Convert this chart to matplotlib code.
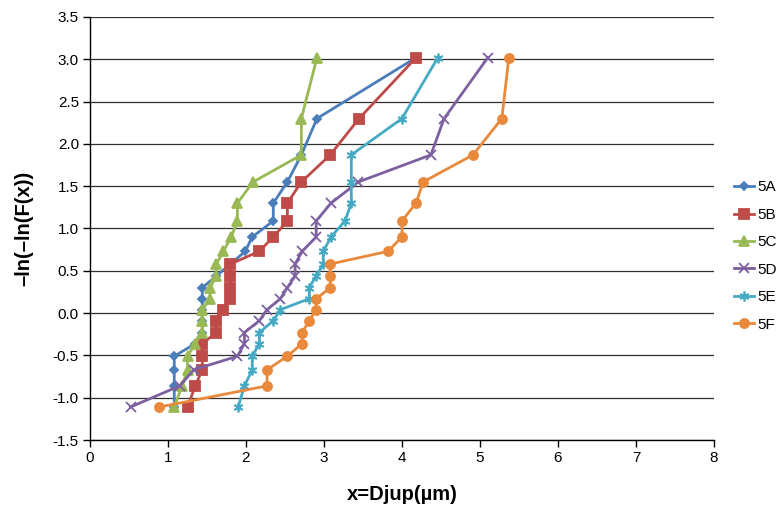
import matplotlib.pyplot as plt

plt.rcParams['font.family'] = ['Liberation Sans', 'DejaVu Sans']

# y positions (plotting positions), shared by every series
y_vals = [-1.11, -0.86, -0.67, -0.51, -0.36, -0.23, -0.09, 0.04, 0.17, 0.30,
          0.44, 0.58, 0.73, 0.90, 1.09, 1.30, 1.55, 1.87, 2.30, 3.02]

x_5a = [1.08, 1.08, 1.08, 1.08, 1.35, 1.44, 1.44, 1.44, 1.44, 1.44,
        1.62, 1.80, 1.99, 2.08, 2.35, 2.35, 2.53, 2.71, 2.91, 4.18]
x_5b = [1.25, 1.35, 1.44, 1.44, 1.44, 1.62, 1.62, 1.71, 1.80, 1.80,
        1.80, 1.80, 2.17, 2.35, 2.53, 2.53, 2.71, 3.08, 3.45, 4.18]
x_5c = [1.08, 1.18, 1.25, 1.25, 1.35, 1.44, 1.44, 1.44, 1.54, 1.54,
        1.62, 1.62, 1.71, 1.81, 1.89, 1.89, 2.09, 2.71, 2.71, 2.91]
x_5d = [0.52, 1.15, 1.33, 1.89, 1.98, 1.98, 2.17, 2.27, 2.44, 2.53,
        2.63, 2.63, 2.72, 2.90, 2.90, 3.09, 3.44, 4.37, 4.54, 5.10]
x_5e = [1.90, 1.98, 2.08, 2.08, 2.17, 2.17, 2.35, 2.44, 2.81, 2.81,
        2.90, 2.99, 2.99, 3.09, 3.27, 3.35, 3.35, 3.35, 4.00, 4.46]
x_5f = [0.89, 2.27, 2.27, 2.53, 2.72, 2.72, 2.81, 2.90, 2.90, 3.08,
        3.08, 3.08, 3.82, 4.00, 4.00, 4.18, 4.27, 4.91, 5.28, 5.37]

labels = ['5A', '5B', '5C', '5D', '5E', '5F']
series = [x_5a, x_5b, x_5c, x_5d, x_5e, x_5f]
colors = ['#4A7EBB', '#BE4B48', '#98B954', '#7D60A0', '#46AAC5', '#E8893B']
markers = ['D', 's', '^', 'x', (6, 2, 0), 'o']
msizes = [4.5, 6.5, 6.5, 6.5, 7, 6.5]

fig = plt.figure(figsize=(7.84, 5.09), dpi=100)
ax = fig.add_axes([90 / 784, 1 - 440 / 509, 624 / 784, 423 / 509])

for xs, lab, c, m, ms in zip(series, labels, colors, markers, msizes):
    ax.plot(xs, y_vals, color=c, lw=2.0, marker=m, markersize=ms,
            markeredgecolor=c, markerfacecolor=c, markeredgewidth=1.3,
            label=lab, clip_on=False, zorder=3)

ax.set_xlim(0, 8)
ax.set_ylim(-1.5, 3.5)
ax.set_xticks(range(0, 9))
ax.set_yticks([-1.5, -1.0, -0.5, 0.0, 0.5, 1.0, 1.5, 2.0, 2.5, 3.0, 3.5])
ax.set_yticklabels(['-1.5', '-1.0', '-0.5', '0.0', '0.5', '1.0', '1.5',
                    '2.0', '2.5', '3.0', '3.5'])
ax.yaxis.grid(True, color='#303030', lw=0.9)
ax.set_axisbelow(True)
for s in ['top', 'right']:
    ax.spines[s].set_visible(False)
for s in ['left', 'bottom']:
    ax.spines[s].set_color('black')
    ax.spines[s].set_linewidth(1.0)
ax.tick_params(axis='both', direction='out', length=5, width=1,
               labelsize=11, colors='black', pad=3)

ax.set_xlabel('x=Djup(µm)', fontsize=14.5, fontweight='bold', labelpad=14)
ax.set_ylabel('–ln(–ln(F(x))', fontsize=14.5, fontweight='bold', labelpad=14)

fig.legend(loc='center left', bbox_to_anchor=(0.936, 0.497), frameon=False,
           fontsize=11, handlelength=1.35, handletextpad=0.2,
           labelspacing=0.88, borderaxespad=0, borderpad=0)

fig.savefig('out.png', dpi=100)
